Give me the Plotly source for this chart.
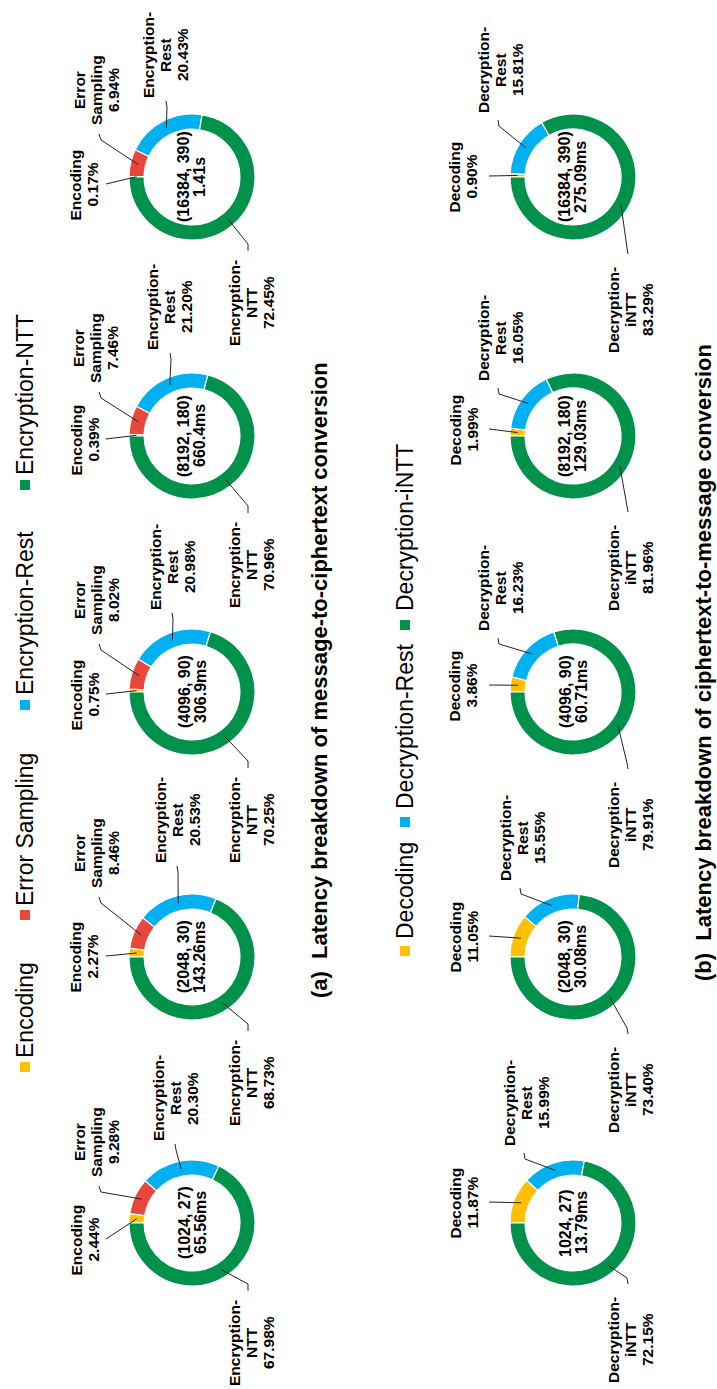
import math
import plotly.graph_objects as go

# ---------------- data ----------------
configs_a = ["(16384, 390)", "(8192, 180)", "(4096, 90)", "(2048, 30)", "(1024, 27)"]
latency_a = ["1.41s", "660.4ms", "306.9ms", "143.26ms", "65.56ms"]
encoding = [0.17, 0.39, 0.75, 2.27, 2.44]
error_sampling = [6.94, 7.46, 8.02, 8.46, 9.28]
encryption_rest = [20.43, 21.20, 20.98, 20.53, 20.30]
encryption_ntt = [72.45, 70.96, 70.25, 68.73, 67.98]

configs_b = ["(16384, 390)", "(8192, 180)", "(4096, 90)", "(2048, 30)", "1024, 27)"]
latency_b = ["275.09ms", "129.03ms", "60.71ms", "30.08ms", "13.79ms"]
decoding = [0.90, 1.99, 3.86, 11.05, 11.87]
decryption_rest = [15.81, 16.05, 16.23, 15.55, 15.99]
decryption_intt = [83.29, 81.96, 79.91, 73.40, 72.15]

names_a = ["Encoding", "Error Sampling", "Encryption-Rest", "Encryption-NTT"]
names_b = ["Decoding", "Decryption-Rest", "Decryption-iNTT"]
label_lines_a = [["Encoding"], ["Error", "Sampling"], ["Encryption-", "Rest"], ["Encryption-", "NTT"]]
label_lines_b = [["Decoding"], ["Decryption-", "Rest"], ["Decryption-", "iNTT"]]
title_a = "(a)\u00a0\u00a0Latency breakdown of message-to-ciphertext conversion"
title_b = "(b)\u00a0\u00a0Latency breakdown of ciphertext-to-message conversion"

# ---------------- style / layout ----------------
W, H = 717, 1389
FONT = "Liberation Sans, Arial, sans-serif"
COL_A = ["#FFC000", "#E8483B", "#00B0F0", "#00914B"]
COL_B = ["#FFC000", "#00B0F0", "#00914B"]
R_OUT = 63
HOLE = 0.76
R_MID = R_OUT * (1 + HOLE) / 2
ROT = -90
CX_A, CX_B = 192, 573
CY = [177, 436, 692, 957, 1223]

# label centres (pixel) per category per donut
lab_a = [
    ([84] * 5, [185, 440, 695, 957, 1240]),
    ([96] * 5, [90, 348, 600, 853, 1142]),
    ([166, 170, 172, 177, 175], [55, 307, 567, 820, 1098]),
    ([251] * 5, [303, 565, 820, 1083, 1343]),
]
lab_b = [
    ([463] * 5, [177, 430, 686, 937, 1203]),
    ([500, 500, 500, 522, 526], [70, 338, 588, 838, 1103]),
    ([630] * 5, [310, 568, 825, 1090, 1340]),
]
# leader end offset from label, and hook vector
lead_a = [((22, -1), None), ((3, 44), (2, 6)), ((0, 46), (1, 6)), ((-3, -52), (0, -7))]
lead_b = [((26, -1), None), ((-2, 50), (1, 6)), ((-2, -56), (-1, -6))]

LINE_SP = 17
LAB_SIZE = 15.5

leg_a = dict(x=25, sq=[1067, 915, 705, 485], txt=[1010, 830, 613, 395])
leg_b = dict(x=405, sq=[951, 822, 625], txt=[891, 727, 528])


def px(x):
    return x / W


def py(y):
    return 1 - y / H


fig = go.Figure()
annotations = []
shapes = []


def text(x, y, s, size, bold=True):
    annotations.append(dict(
        x=px(x), y=py(y), xref="paper", yref="paper", showarrow=False,
        text=f"<b>{s}</b>" if bold else s, textangle=-90,
        xanchor="center", yanchor="middle",
        font=dict(family=FONT, size=size, color="black")))


def donut(cx, cy, vals, names, cols, cfg, lat, lines, labpos, idx, leads):
    fig.add_trace(go.Pie(
        values=vals, labels=names, sort=False, direction="clockwise",
        rotation=ROT, hole=HOLE, textinfo="none", hoverinfo="label+percent",
        marker=dict(colors=cols, line=dict(color="white", width=1.2)),
        domain=dict(x=[px(cx - R_OUT), px(cx + R_OUT)],
                    y=[py(cy + R_OUT), py(cy - R_OUT)]),
        showlegend=False))
    text(cx - 8, cy, cfg, 16)
    text(cx + 8, cy, lat, 16)
    total = sum(vals)
    cum = 0.0
    for k, v in enumerate(vals):
        mid = ROT + (cum + v / 2) / total * 360
        cum += v
        th = math.radians(mid)
        rx, ry = cx + R_MID * math.sin(th), cy - R_MID * math.cos(th)
        lx, ly = labpos[k][0][idx], labpos[k][1][idx]
        ls = lines[k] + [f"{v:.2f}%"]
        n = len(ls)
        for i, s in enumerate(ls):
            text(lx + (i - (n - 1) / 2) * LINE_SP, ly, s, LAB_SIZE)
        (ox, oy), hook = leads[k]
        ex, ey = lx + ox, ly + oy
        if hook:
            bx, by = ex + hook[0], ey + hook[1]
            path = f"M {px(rx)} {py(ry)} L {px(bx)} {py(by)} L {px(ex)} {py(ey)}"
        else:
            path = f"M {px(rx)} {py(ry)} L {px(ex)} {py(ey)}"
        shapes.append(dict(type="path", xref="paper", yref="paper", path=path,
                           line=dict(color="#222222", width=1)))


for i in range(5):
    donut(CX_A, CY[i],
          [encoding[i], error_sampling[i], encryption_rest[i], encryption_ntt[i]],
          names_a, COL_A, configs_a[i], latency_a[i], label_lines_a, lab_a, i, lead_a)
    donut(CX_B, CY[i],
          [decoding[i], decryption_rest[i], decryption_intt[i]],
          names_b, COL_B, configs_b[i], latency_b[i], label_lines_b, lab_b, i, lead_b)

# legends (rotated)
for leg, names, cols in ((leg_a, names_a, COL_A), (leg_b, names_b, COL_B)):
    for name, col, sy, ty in zip(names, cols, leg["sq"], leg["txt"]):
        shapes.append(dict(type="rect", xref="paper", yref="paper",
                           x0=px(leg["x"] - 5), x1=px(leg["x"] + 5),
                           y0=py(sy + 5), y1=py(sy - 5),
                           fillcolor=col, line=dict(width=0)))
        text(leg["x"], ty, name, 23, bold=False)

text(320, 680, title_a, 22)
text(703, 663, title_b, 22)

fig.update_layout(
    width=W, height=H, autosize=False,
    margin=dict(l=0, r=0, t=0, b=0),
    paper_bgcolor="white", plot_bgcolor="white",
    annotations=annotations, shapes=shapes,
)
fig.write_html("out.html")
